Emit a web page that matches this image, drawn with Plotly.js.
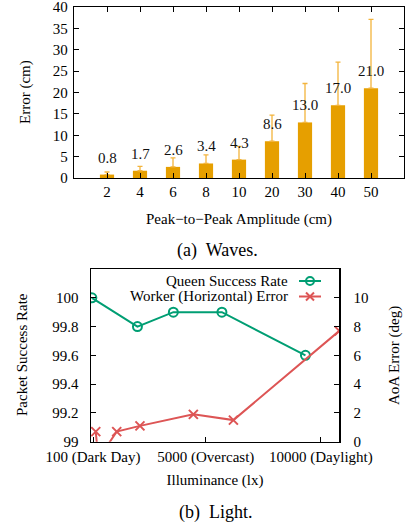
<!DOCTYPE html>
<html>
<head>
<meta charset="utf-8">
<script src="https://cdn.plot.ly/plotly-3.0.1.min.js"></script>
<style>html,body{margin:0;padding:0;background:#fff;}#chart{width:415px;height:529px;}</style>
</head>
<body>
<div id="chart"></div>
<script>
// ---- (a) Waves ----
const amplitudes = ['2', '4', '6', '8', '10', '20', '30', '40', '50'];
const errorMean = [0.8, 1.7, 2.6, 3.4, 4.3, 8.6, 13.0, 17.0, 21.0];
const errorSpread = [0.6, 1.0, 2.1, 2.0, 3.1, 6.1, 9.1, 10.1, 16.1];

// ---- (b) Light ----
const queenLux = [50, 2030, 3590, 5700, 9330];
const queenRate = [100, 99.8, 99.9, 99.9, 99.6];
const workerLux = [220, 330, 1130, 2140, 4460, 6200, 10800];
const workerErr = [0.7, -1.2, 0.7, 1.1, 1.9, 1.5, 7.7];
const luxTickVals = [100, 5000, 10000];
const luxTickText = ['100 (Dark Day)', '5000 (Overcast)', '10000 (Daylight)'];
const rateTicks = [99, 99.2, 99.4, 99.6, 99.8, 100];
const aoaTicks = [0, 2, 4, 6, 8, 10];
const errTicks = [0, 5, 10, 15, 20, 25, 30, 35, 40];

const W = 415, H = 529;
const px = v => v / W;
const py = v => 1 - v / H;
const FONT = 'Liberation Serif, Times New Roman, serif';
const ORANGE = '#e69f00';
const GREEN = '#009e73';
const RED = '#dd5555';

const traces = [
  {
    type: 'bar', x: amplitudes, y: errorMean, xaxis: 'x', yaxis: 'y',
    width: 0.43, marker: {color: ORANGE, line: {width: 0}},
    error_y: {type: 'data', symmetric: false, array: errorSpread,
      arrayminus: errorSpread.map(() => 0), color: '#f3b43c', thickness: 1.3, width: 2.5},
    showlegend: false, hoverinfo: 'none'
  },
  {
    type: 'scatter', mode: 'lines+markers', x: queenLux, y: queenRate,
    xaxis: 'x2', yaxis: 'y2', name: 'Queen Success Rate',
    line: {color: GREEN, width: 2},
    marker: {symbol: 'circle-open', size: 9, color: GREEN, line: {width: 2, color: GREEN}},
    showlegend: false
  },
  {
    type: 'scatter', mode: 'lines+markers', x: workerLux, y: workerErr,
    xaxis: 'x2', yaxis: 'y3', name: 'Worker (Horizontal) Error',
    line: {color: RED, width: 2},
    marker: {symbol: 'x-thin-open', size: 9, color: RED, line: {width: 2, color: RED}},
    showlegend: false
  }
];

const tickFont = {family: FONT, size: 15, color: '#000'};
const titleFont = {family: FONT, size: 15, color: '#000'};

const annotations = amplitudes.map((a, i) => ({
  x: i, y: errorMean[i], xref: 'x', yref: 'y', text: errorMean[i].toFixed(1),
  showarrow: false, yshift: 17, font: {family: FONT, size: 15, color: '#111'}
}));

function paperText(text, x, y, opts) {
  return Object.assign({x: px(x), y: py(y), xref: 'paper', yref: 'paper', xanchor: 'center',
    yanchor: 'middle', text: text, showarrow: false, font: titleFont}, opts || {});
}

annotations.push(
  paperText('(a)\u00a0 Waves.', 217, 250, {font: {family: FONT, size: 18, color: '#000'}}),
  paperText('(b)\u00a0 Light.', 216, 512, {font: {family: FONT, size: 18, color: '#000'}}),
  paperText('Queen Success Rate', 290, 281, {xanchor: 'right'}),
  paperText('Worker (Horizontal) Error', 290, 296.5, {xanchor: 'right'}),
  paperText('Error (cm)', 25, 92, {textangle: -90}),
  paperText('Packet Success Rate', 22, 355, {textangle: -90}),
  paperText('AoA Error (deg)', 394, 356, {textangle: -90})
);

const shapes = [
  {type: 'line', xref: 'paper', yref: 'paper', x0: px(299), x1: px(321), y0: py(281), y1: py(281),
   line: {color: GREEN, width: 2}},
  {type: 'circle', xref: 'paper', yref: 'paper', x0: px(306), x1: px(314), y0: py(285), y1: py(277),
   line: {color: GREEN, width: 2}, fillcolor: 'rgba(0,0,0,0)'},
  {type: 'line', xref: 'paper', yref: 'paper', x0: px(299), x1: px(321), y0: py(296.5), y1: py(296.5),
   line: {color: RED, width: 2}},
  {type: 'line', xref: 'paper', yref: 'paper', x0: px(306), x1: px(314), y0: py(292.5), y1: py(300.5),
   line: {color: RED, width: 2}},
  {type: 'line', xref: 'paper', yref: 'paper', x0: px(306), x1: px(314), y0: py(300.5), y1: py(292.5),
   line: {color: RED, width: 2}}
];

const axBase = {showgrid: false, zeroline: false, showline: true, linecolor: '#000', linewidth: 1.2,
  ticks: 'inside', ticklen: 5, tickcolor: '#000', tickwidth: 1, tickfont: tickFont, fixedrange: true,
  ticklabeloverflow: 'allow'};

const layout = {
  width: W, height: H, margin: {l: 0, r: 0, t: 0, b: 0},
  paper_bgcolor: '#fff', plot_bgcolor: '#fff', showlegend: false,
  font: {family: FONT},
  xaxis: Object.assign({}, axBase, {
    domain: [px(74), px(404)], anchor: 'y', type: 'category', range: [-1, 9], mirror: 'ticks',
    title: {text: 'Peak\u2212to\u2212Peak Amplitude (cm)', font: titleFont, standoff: 14}
  }),
  yaxis: Object.assign({}, axBase, {
    domain: [py(178), py(7)], anchor: 'x', range: [0, 40], tickvals: errTicks, mirror: 'ticks',
    ticklabelstandoff: 2
  }),
  xaxis2: Object.assign({}, axBase, {
    domain: [px(90.7), px(339.3)], anchor: 'y2', range: [0, 10800], mirror: true,
    tickvals: luxTickVals, ticktext: luxTickText, ticklabelstandoff: 1,
    title: {text: 'Illuminance (lx)', font: titleFont, standoff: 9}
  }),
  yaxis2: Object.assign({}, axBase, {
    domain: [py(441.7), py(269)], anchor: 'x2', range: [99, 100.2], mirror: true,
    tickvals: rateTicks, ticktext: rateTicks.map(v => String(v)), ticklabelstandoff: 8
  }),
  yaxis3: Object.assign({}, axBase, {
    overlaying: 'y2', side: 'right', anchor: 'x2', range: [0, 12], tickvals: aoaTicks,
    ticklabelstandoff: 10
  }),
  annotations: annotations,
  shapes: shapes
};

Plotly.newPlot('chart', traces, layout, {displayModeBar: false, staticPlot: true});
</script>
</body>
</html>
